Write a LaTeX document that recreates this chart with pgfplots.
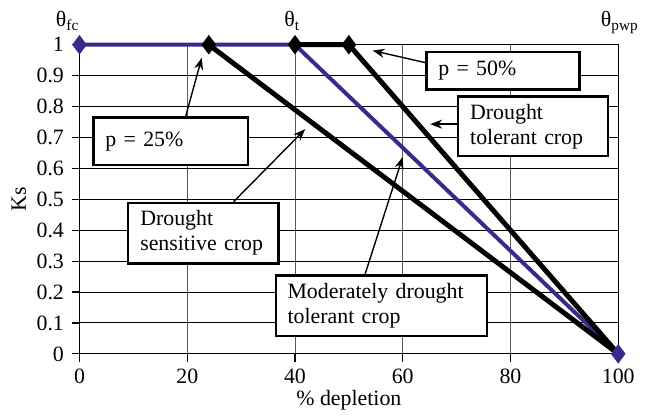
\documentclass[11pt,border=0pt]{standalone}
\usepackage{fontspec}
\setmainfont{Liberation Serif}
\usepackage{pgfplots}
\pgfplotsset{compat=1.18}
\usetikzlibrary{arrows.meta}
\definecolor{ksblue}{RGB}{58,42,140}

\begin{document}
\begin{tikzpicture}[
  box/.style={draw=black, line width=1.1pt, fill=white, align=left,
    inner xsep=6pt, inner ysep=0pt, anchor=north west,
    font=\fontsize{11}{12.5}\selectfont},
  callout/.style={-{Stealth[length=6pt,width=4.5pt]}, line width=0.7pt}
]
\begin{axis}[
  scale only axis,
  width=271pt, height=155.5pt,
  xmin=0, xmax=100, ymin=0, ymax=1,
  xtick={0,20,40,60,80,100},
  ytick={0,0.1,0.2,0.3,0.4,0.5,0.6,0.7,0.8,0.9,1},
  /pgf/number format/assume math mode=true,
  ticklabel style={font=\fontsize{11}{13}\selectfont},
  tick align=outside,
  xtick pos=bottom, ytick pos=left,
  major tick length=4pt,
  tick style={black, line width=0.6pt},
  axis line style={black, line width=0.5pt},
  ymajorgrids, xmajorgrids,
  y grid style={black, line width=0.5pt},
  x grid style={black!65, line width=0.5pt},
  xlabel={\% depletion},
  ylabel={Ks},
  label style={font=\fontsize{11}{13}\selectfont},
  xlabel style={at={(axis description cs:0.5,0)}, anchor=center, yshift=-23.5pt},
  ylabel style={at={(axis description cs:-0.1125,0.5)}, anchor=center},
  clip=false,
]
% moderately drought tolerant crop (p = 40%)
\addplot[ksblue, line width=2pt, no marks] coordinates {
  (0,1) (40,1) (100,0)
};
% drought sensitive crop (p = 25%)
\addplot[black, line width=2.5pt, mark=diamond*, mark size=4.5pt,
  mark options={solid, fill=black, line width=0.5pt}, mark indices={1}] coordinates {
  (24,1) (100,0)
};
% drought tolerant crop (p = 50%)
\addplot[black, line width=2.5pt, mark=diamond*, mark size=4.5pt,
  mark options={solid, fill=black, line width=0.5pt}, mark indices={1,2}] coordinates {
  (40,1) (50,1) (100,0)
};
\addplot[only marks, mark=diamond*, mark size=4.5pt,
  mark options={draw=ksblue, fill=ksblue, line width=0.5pt}] coordinates {
  (0,1) (100,0)
};

% theta labels
\node[anchor=base, font=\fontsize{11}{13}\selectfont] at (axis cs:-2.2,1) [yshift=9pt] {θ\textsubscript{fc}};
\node[anchor=base, font=\fontsize{11}{13}\selectfont] at (axis cs:39.5,1) [yshift=9pt] {θ\textsubscript{t}};
\node[anchor=base, font=\fontsize{11}{13}\selectfont] at (axis cs:100.3,1) [yshift=9pt] {θ\textsubscript{pwp}};

% callouts
\draw[callout] (axis cs:19.7,0.768) -- (axis cs:22.7,0.958);
\draw[callout] (axis cs:64.2,0.942) -- (axis cs:54.4,0.981);
\draw[callout] (axis cs:70.1,0.743) -- (axis cs:65.1,0.743);
\draw[callout] (axis cs:28.6,0.492) -- (axis cs:41.9,0.727);
\draw[callout] (axis cs:53.0,0.257) -- (axis cs:60.0,0.637);

\node[box, text width=65.5pt, minimum height=24pt] at (axis cs:2.4,0.768) {p = 25\%};
\node[box, text width=65pt, minimum height=19pt] at (axis cs:64.2,0.981) {p = 50\%};
\node[box, text width=63.5pt, minimum height=30pt] at (axis cs:70.1,0.836) {Drought\\tolerant crop};
\node[box, text width=63.5pt, minimum height=30.5pt] at (axis cs:8.86,0.492) {Drought\\sensitive crop};
\node[box, text width=94.5pt, minimum height=30.5pt] at (axis cs:36.2,0.257) {Moderately drought\\tolerant crop};
\end{axis}
\path ([shift={(-40pt,-30.5pt)}]current axis.south west) rectangle ([shift={(12pt,22.5pt)}]current axis.north east);
\end{tikzpicture}
\end{document}
